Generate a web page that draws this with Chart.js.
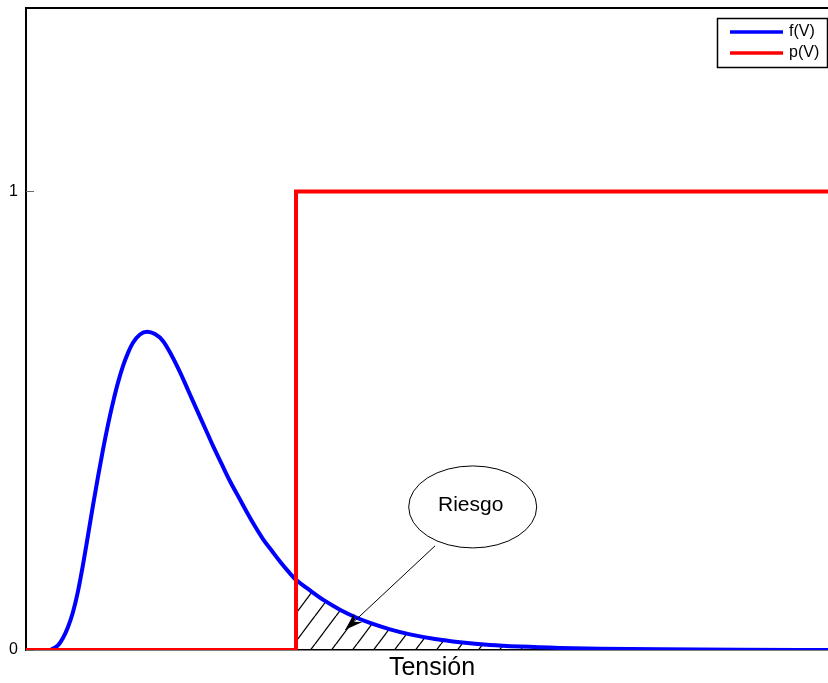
<!DOCTYPE html>
<html>
<head>
<meta charset="utf-8">
<script src="https://cdn.jsdelivr.net/npm/chart.js@4.4.1/dist/chart.umd.min.js"></script>
<style>
    html, body { margin: 0; padding: 0; background: #fff; overflow: hidden; }
    #wrap { width: 838px; height: 683px; }
</style>
</head>
<body>
<div id="wrap"><canvas id="riskChart"></canvas></div>
<script>
// Tensión (arbitrary units); the axis runs a little past the right edge of the picture
const tension = [0, 2.99, 3.37, 3.99, 4.61, 5.24, 5.86, 6.48, 7.11, 7.73, 8.35, 8.98, 9.60, 10.22, 10.85, 11.47,
    12.09, 12.72, 13.34, 14.21, 15.09, 16.08, 17.08, 18.08, 19.20, 20.20, 21.32, 22.32, 23.32, 24.44, 25.44,
    26.56, 27.56, 28.55, 29.55, 30.67, 31.67, 32.67, 33.67, 35.41, 37.28, 39.15, 41.02, 42.89, 45.39, 47.88,
    51.00, 54.11, 57.86, 61.60, 66.58, 71.57, 79.05, 89.03, 100];
// f(V): density of the applied voltage
const fV = [0, 0, 0.003, 0.010, 0.026, 0.050, 0.083, 0.128, 0.186, 0.250, 0.315, 0.378, 0.437, 0.491, 0.540, 0.583,
    0.619, 0.648, 0.670, 0.688, 0.694, 0.689, 0.674, 0.645, 0.606, 0.567, 0.523, 0.484, 0.445, 0.404, 0.368,
    0.332, 0.300, 0.270, 0.242, 0.216, 0.193, 0.172, 0.153, 0.130, 0.107, 0.088, 0.072, 0.059, 0.045, 0.034,
    0.024, 0.017, 0.011, 0.0075, 0.0045, 0.0028, 0.0014, 0.0005, 0];
// p(V): step from 0 to 1 at the withstand voltage
const pStepAt = 33.67;
const pLow = 0;
const pHigh = 1;
const yTicks = [0, 1];
const seriesNames = ['f(V)', 'p(V)'];
const noteText = 'Riesgo';

document.addEventListener('DOMContentLoaded', function () {
    const ctx = document.getElementById('riskChart').getContext('2d');
    const FONT = '"Liberation Sans", Arial, sans-serif';

    const curve = tension.map((t, i) => ({ x: t, y: fV[i] }));
    const tail = curve.filter(p => p.x >= pStepAt);
    const xEnd = tension[tension.length - 1];
    const step = [
        { x: tension[0], y: pLow },
        { x: pStepAt, y: pLow },
        { x: pStepAt, y: pHigh },
        { x: xEnd, y: pHigh }
    ];
    const base = [{ x: pStepAt, y: 0 }, { x: xEnd, y: 0 }];

    // diagonal hatch for the risk area
    const tile = document.createElement('canvas');
    tile.width = 21;
    tile.height = 28;
    const tctx = tile.getContext('2d');
    tctx.strokeStyle = '#000';
    tctx.lineWidth = 1.3;
    [-21, 0, 21].forEach(dx => {
        tctx.beginPath();
        tctx.moveTo(dx, 28);
        tctx.lineTo(dx + 21, 0);
        tctx.stroke();
    });
    const hatch = ctx.createPattern(tile, 'repeat');

    const notes = {
        id: 'notes',
        beforeDatasetsDraw(chart) {
            const { ctx, chartArea: a, scales: { y } } = chart;
            ctx.save();
            ctx.strokeStyle = '#000';
            ctx.lineWidth = 2;
            ctx.beginPath();
            ctx.moveTo(a.left - 1, a.top);
            ctx.lineTo(a.right, a.top);
            ctx.stroke();
            ctx.strokeStyle = '#666';
            ctx.lineWidth = 1;
            yTicks.forEach(v => {
                const py = Math.round(y.getPixelForValue(v)) + 0.5;
                ctx.beginPath();
                ctx.moveTo(a.left, py);
                ctx.lineTo(a.left + 8, py);
                ctx.stroke();
            });
            ctx.restore();
        },
        afterDatasetsDraw(chart) {
            const { ctx, scales: { x, y } } = chart;
            ctx.save();
            // callout ellipse
            const cx = x.getPixelForValue(55.7), cy = y.getPixelForValue(0.312);
            ctx.strokeStyle = '#000';
            ctx.lineWidth = 1;
            ctx.fillStyle = '#fff';
            ctx.beginPath();
            ctx.ellipse(cx, cy, 64, 41, 0, 0, Math.PI * 2);
            ctx.fill();
            ctx.stroke();
            ctx.fillStyle = '#000';
            ctx.font = '21px ' + FONT;
            ctx.textAlign = 'center';
            ctx.textBaseline = 'middle';
            ctx.fillText(noteText, cx - 2, cy - 2);

            // arrow into the hatched area
            const x0 = x.getPixelForValue(51.0), y0 = y.getPixelForValue(0.227);
            const x1 = x.getPixelForValue(39.8), y1 = y.getPixelForValue(0.044);
            const ang = Math.atan2(y1 - y0, x1 - x0);
            ctx.beginPath();
            ctx.moveTo(x0, y0);
            ctx.lineTo(x1, y1);
            ctx.stroke();
            const back = (d, off) => [x1 - d * Math.cos(ang) - off * Math.sin(ang), y1 - d * Math.sin(ang) + off * Math.cos(ang)];
            ctx.beginPath();
            ctx.moveTo(x1, y1);
            ctx.lineTo(...back(18, 6));
            ctx.lineTo(...back(12, 0));
            ctx.lineTo(...back(18, -6));
            ctx.closePath();
            ctx.fill();
            ctx.restore();
        },
        afterDraw(chart) {
            const { ctx } = chart;
            const ds = chart.data.datasets;
            ctx.save();
            ctx.fillStyle = '#fff';
            ctx.strokeStyle = '#000';
            ctx.lineWidth = 1.5;
            ctx.fillRect(717, 18, 112, 50);
            ctx.strokeRect(717.5, 18.5, 110, 49);
            ctx.font = '16px ' + FONT;
            ctx.textBaseline = 'middle';
            ctx.textAlign = 'left';
            [32, 53].forEach((ly, i) => {
                ctx.strokeStyle = ds[i].borderColor;
                ctx.lineWidth = 3.5;
                ctx.beginPath();
                ctx.moveTo(730, ly);
                ctx.lineTo(783, ly);
                ctx.stroke();
                ctx.fillStyle = '#000';
                ctx.fillText(ds[i].label, 789, ly);
            });
            ctx.restore();
        }
    };

    new Chart(ctx, {
        type: 'line',
        data: {
            datasets: [{
                label: seriesNames[0],
                data: curve,
                borderColor: '#0000ff',
                borderWidth: 4,
                pointRadius: 0,
                cubicInterpolationMode: 'monotone',
                order: 1
            }, {
                label: seriesNames[1],
                data: step,
                borderColor: '#ff0000',
                borderWidth: 4,
                pointRadius: 0,
                tension: 0,
                order: 0
            }, {
                label: 'hatch',
                data: tail,
                borderWidth: 0,
                borderColor: 'rgba(0,0,0,0)',
                backgroundColor: hatch,
                fill: 'origin',
                pointRadius: 0,
                cubicInterpolationMode: 'monotone',
                order: 2
            }, {
                label: 'base',
                data: base,
                borderColor: '#000',
                borderWidth: 1.5,
                pointRadius: 0,
                order: 3
            }]
        },
        options: {
            responsive: true,
            maintainAspectRatio: false,
            animation: false,
            layout: { padding: { top: 8, right: 0, left: 0, bottom: 0 } },
            scales: {
                x: {
                    type: 'linear',
                    min: 0,
                    max: 101.25,
                    grid: { display: false, drawTicks: false },
                    border: { display: true, color: '#000', width: 1.5 },
                    ticks: { display: false },
                    title: {
                        display: true,
                        text: 'Tensión',
                        color: '#000',
                        font: { family: FONT, size: 25 },
                        padding: { top: 2, bottom: 0 }
                    },
                    afterFit: (s) => { s.height = 33; s.paddingLeft = 0; s.paddingRight = 0; }
                },
                y: {
                    min: 0,
                    max: 1.4,
                    grid: { display: false, drawTicks: false },
                    border: { display: true, color: '#000', width: 2 },
                    afterBuildTicks: (s) => { s.ticks = yTicks.map(v => ({ value: v })); },
                    ticks: {
                        color: '#000',
                        padding: 8,
                        font: { family: FONT, size: 16 }
                    },
                    afterFit: (s) => { s.width = 26; s.paddingTop = 0; s.paddingBottom = 0; }
                }
            },
            plugins: {
                legend: { display: false },
                tooltip: { enabled: false }
            }
        },
        plugins: [notes]
    });
});
</script>
</body>
</html>
